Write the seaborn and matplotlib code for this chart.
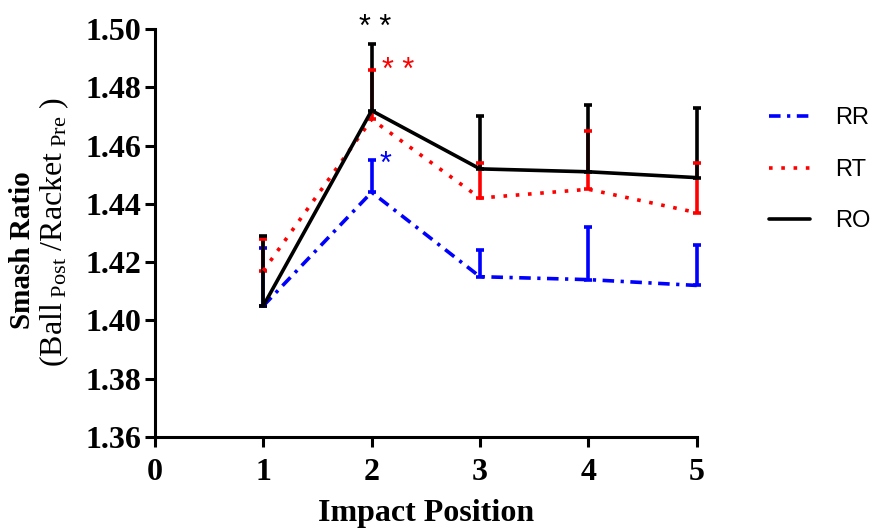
import pandas as pd
import seaborn as sns
import matplotlib.pyplot as plt
import numpy as np

# data
positions = [1, 2, 3, 4, 5]
rr_mean = [1.405, 1.444, 1.415, 1.414, 1.412]
rr_err = [0.020, 0.011, 0.009, 0.018, 0.014]
rt_mean = [1.417, 1.469, 1.442, 1.445, 1.437]
rt_err = [0.011, 0.017, 0.012, 0.020, 0.017]
ro_mean = [1.405, 1.472, 1.452, 1.451, 1.449]
ro_err = [0.024, 0.023, 0.018, 0.023, 0.024]
groups = ["RR", "RT", "RO"]
x_ticks = [0, 1, 2, 3, 4, 5]
y_ticks = [1.36, 1.38, 1.40, 1.42, 1.44, 1.46, 1.48, 1.50]

colors = {"RR": "#0000ff", "RT": "#ff0000", "RO": "#000000"}
dashes = {"RR": (3.2, 1.8, 0.9, 1.8), "RT": (1, 2.4), "RO": ""}

sns.set_style("white")
plt.rcParams["font.family"] = ["Liberation Serif", "DejaVu Serif"]
plt.rcParams["mathtext.fontset"] = "custom"
plt.rcParams["mathtext.rm"] = "Liberation Serif"
plt.rcParams["mathtext.it"] = "Liberation Serif:italic"
for key in ["text.color", "axes.labelcolor", "xtick.color", "ytick.color"]:
    plt.rcParams[key] = "black"

df = pd.DataFrame({
    "position": positions * 3,
    "ratio": rr_mean + rt_mean + ro_mean,
    "group": ["RR"] * 5 + ["RT"] * 5 + ["RO"] * 5,
})
errs = {"RR": rr_err, "RT": rt_err, "RO": ro_err}

fig = plt.figure(figsize=(8.73, 5.32), dpi=100)
ax = fig.add_axes([0.1775, 0.1786, 0.6205, 0.7669])

# error bars first (upper only), then the lines on top
for i, g in enumerate(groups):
    means = df.loc[df["group"] == g, "ratio"].values
    ax.errorbar(positions, means, yerr=[np.zeros(5), errs[g]], fmt="none",
                ecolor=colors[g], elinewidth=2.6, capsize=3, capthick=2.6,
                zorder=2 + i, clip_on=False)

sns.lineplot(data=df, x="position", y="ratio", hue="group", style="group",
             palette=colors, dashes=dashes, hue_order=groups, style_order=groups,
             linewidth=2.6, ax=ax, legend=True, clip_on=False)
for i, line in enumerate(ax.get_lines()):
    line.set_zorder(2 + i)
    line.set_dash_capstyle("butt")

ax.set_xlim(0, 5)
ax.set_ylim(1.36, 1.50)
ax.set_xticks(x_ticks)
ax.set_yticks(y_ticks)
ax.set_yticklabels([f"{v:.2f}" for v in y_ticks])
for s in ["top", "right"]:
    ax.spines[s].set_visible(False)
for s in ["left", "bottom"]:
    ax.spines[s].set_linewidth(2.2)
    ax.spines[s].set_color("black")
ax.tick_params(axis="both", direction="out", length=7, width=2.2, color="black",
               labelsize=23, left=True, bottom=True)
ax.tick_params(axis="x", pad=8)
ax.tick_params(axis="y", pad=3)
for lab in ax.get_xticklabels() + ax.get_yticklabels():
    lab.set_fontweight("bold")

ax.set_xlabel("Impact Position", fontsize=23, fontweight="bold", labelpad=9)
ax.set_ylabel("")
fig.text(0.026, 0.53, "Smash Ratio", rotation=90, fontsize=21, fontweight="bold",
         ha="center", va="center")
fig.text(0.062, 0.565, r"(Ball$_{\ \mathrm{Post}}$ /Racket$_{\ \mathrm{Pre}}$ )",
         rotation=90, fontsize=23, ha="center", va="center")

# significance markers
ax.text(2.03, 1.5005, "* *", color="black", fontsize=22, ha="center", va="center",
        family="Liberation Sans", clip_on=False)
ax.text(2.24, 1.4855, "* *", color="red", fontsize=22, ha="center", va="center",
        family="Liberation Sans")
ax.text(2.13, 1.4535, "*", color="blue", fontsize=22, ha="center", va="center",
        family="Liberation Sans")

handles, labels = ax.get_legend_handles_labels()
ax.legend(handles=handles, labels=labels, loc="upper left",
          bbox_to_anchor=(1.095, 0.86), frameon=False, handlelength=1.7,
          labelspacing=1.25, handletextpad=1.1,
          prop={"family": "Liberation Sans", "size": 17})

fig.savefig("out.png", dpi=100)
